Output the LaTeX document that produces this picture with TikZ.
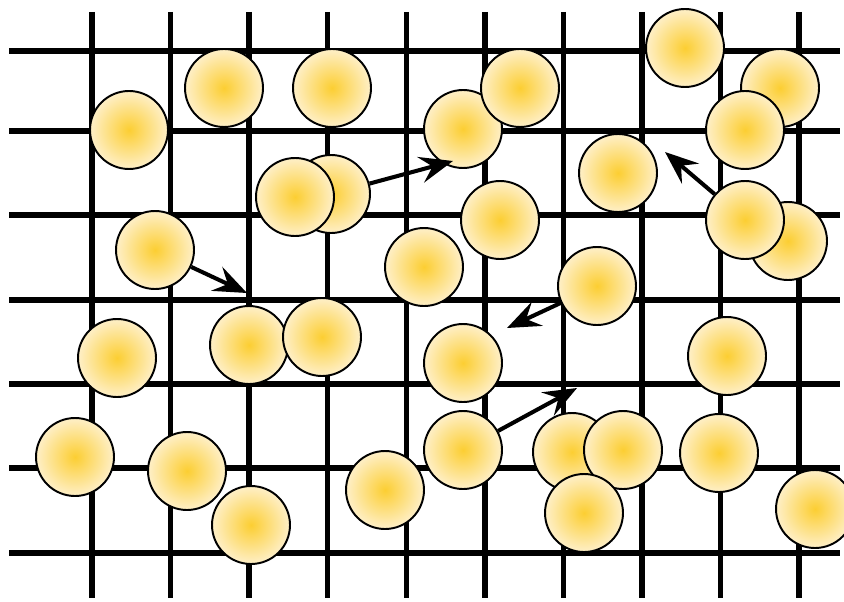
\documentclass[tikz,border=0pt]{standalone}
\usepackage{tikz}
\usetikzlibrary{arrows.meta}
\definecolor{beadin}{RGB}{252,206,50}
\definecolor{beadout}{RGB}{254,238,194}
\pgfdeclareradialshading{beadshade}{\pgfpoint{0bp}{0bp}}{color(0bp)=(beadin); color(24bp)=(beadout); color(50bp)=(beadout)}

\begin{document}
\begin{tikzpicture}[x=0.02cm, y=-0.02cm,
	bead/.style={circle, draw=black, line width=1.1pt, shading=beadshade, minimum size=1.56cm, inner sep=0pt},
	bar/.style={line width=3.1pt},
	push/.style={line width=2.3pt, -{Stealth[length=19pt, width=15pt, inset=7pt]}}]
	\useasboundingbox (0,0) rectangle (844,601);
	\foreach \y in {51,131,215,300,384,468,553}
		\draw[bar] (9,\y) -- (840,\y);
	\foreach \i in {0,...,9}
		\draw[bar] (92+78.56*\i,12) -- (92+78.56*\i,598);

	\node[bead] (b1) at (129,130) {};
	\node[bead] (b2) at (224,88) {};
	\node[bead] (b3) at (332,88) {};
	\node[bead] (b4) at (155,250) {};
	\node[bead] (b5) at (117,358) {};
	\node[bead] (b6) at (75,457) {};
	\node[bead] (b7) at (187,471) {};
	\node[bead] (b8) at (251,525) {};
	\node[bead] (b9) at (249,345) {};
	\node[bead] (b10) at (322,337) {};
	\node[bead] (b11) at (331,194) {};
	\node[bead] (b12) at (295,197) {};
	\node[bead] (b13) at (463,129) {};
	\node[bead] (b14) at (520,88) {};
	\node[bead] (b15) at (500,220) {};
	\node[bead] (b16) at (424,267) {};
	\node[bead] (b17) at (385,490) {};
	\node[bead] (b18) at (463,363) {};
	\node[bead] (b19) at (463,450) {};
	\node[bead] (b20) at (597,286) {};
	\node[bead] (b21) at (572,452) {};
	\node[bead] (b22) at (623,450) {};
	\node[bead] (b23) at (584,513) {};
	\node[bead] (b24) at (618,173) {};
	\node[bead] (b25) at (685,48) {};
	\node[bead] (b26) at (780,88) {};
	\node[bead] (b27) at (745,130) {};
	\node[bead] (b28) at (788,241) {};
	\node[bead] (b29) at (745,220) {};
	\node[bead] (b30) at (727,356) {};
	\node[bead] (b31) at (719,453) {};
	\node[bead] (b32) at (815,509) {};

	\coordinate (t1) at (453,161);
	\coordinate (t2) at (247,293);
	\coordinate (t3) at (507,328);
	\coordinate (t4) at (577,388);
	\coordinate (t5) at (665,152);
	\draw[push] (b11) -- (t1);
	\draw[push] (b4) -- (t2);
	\draw[push] (b20) -- (t3);
	\draw[push] (b19) -- (t4);
	\draw[push] (b29) -- (t5);
\end{tikzpicture}
\end{document}
